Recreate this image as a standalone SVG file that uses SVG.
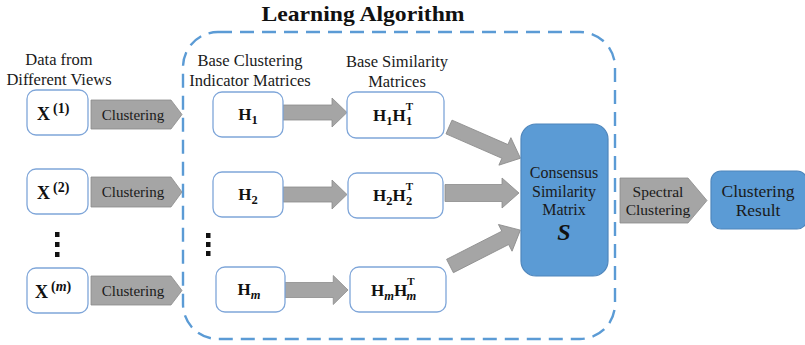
<svg xmlns="http://www.w3.org/2000/svg" width="805" height="345" viewBox="0 0 805 345">
<defs>
<style>
.box{fill:#fff;stroke:#7FA6D9;stroke-width:1.3}
.blue{fill:#5B9BD5;stroke:#4F86BC;stroke-width:1.2}
.arr{fill:#A5A5A5;stroke:#8C8C8C;stroke-width:0.8}
.dash{fill:none;stroke:#5B9BD5;stroke-width:2.4;stroke-dasharray:14 8}
.dot{fill:#111}
</style>
<polygon id="ba" points="0,-7.5 49,-7.5 49,-14.5 64,0 49,14.5 49,7.5 0,7.5"/>
</defs>
<rect width="805" height="345" fill="#fff"/>
<g font-family="Liberation Serif, Times New Roman, DejaVu Serif, serif" fill="#1a1a1a">

<text x="363" y="21" font-size="22" font-weight="bold" text-anchor="middle" fill="#111" textLength="203" lengthAdjust="spacingAndGlyphs">Learning Algorithm</text>
<rect class="dash" x="183" y="32" width="432" height="307" rx="35"/>

<g font-size="16.5" text-anchor="middle">
<text x="59" y="65">Data from</text>
<text x="59" y="85">Different Views</text>
<text x="250" y="66">Base Clustering</text>
<text x="250" y="86">Indicator Matrices</text>
<text x="397" y="67">Base Similarity</text>
<text x="397" y="87">Matrices</text>
</g>

<g id="connectors">
<g class="arr">
<polygon points="91,100 171,100 182,114.5 171,129 91,129"/>
<polygon points="91,177 171,177 182,192 171,207 91,207"/>
<polygon points="91,276 171,276 182,290.5 171,305 91,305"/>
<use href="#ba" transform="translate(283,112.5)"/>
<use href="#ba" transform="translate(283,194.5)"/>
<use href="#ba" transform="translate(285,290) scale(0.985,1)"/>
<polygon points="0,-7.5 61,-7.5 61,-15 78,0 61,15 61,7.5 0,7.5" transform="translate(449,127) rotate(23.6)"/>
<polygon points="0,-8.5 57,-8.5 57,-15 74,0 57,15 57,8.5 0,8.5" transform="translate(445,193)"/>
<polygon points="0,-7.5 62,-7.5 62,-15 79,0 62,15 62,7.5 0,7.5" transform="translate(450,266) rotate(-27)"/>
<polygon points="620,178 688,178 707,200.5 688,223 620,223"/>
</g>
<g font-size="15" text-anchor="middle">
<text x="133" y="120">Clustering</text>
<text x="133" y="197">Clustering</text>
<text x="133" y="296">Clustering</text>
<text x="658" y="197" font-size="15.5">Spectral</text>
<text x="658" y="215" font-size="15.5">Clustering</text>
</g>
</g>

<g class="dot">
<rect x="55" y="232" width="4.5" height="5"/>
<rect x="55" y="242" width="4.5" height="5"/>
<rect x="55" y="252" width="4.5" height="5"/>
<rect x="206" y="233" width="4.5" height="5"/>
<rect x="206" y="242" width="4.5" height="5"/>
<rect x="206" y="251" width="4.5" height="5"/>
</g>

<g font-weight="bold" fill="#111">
<g id="x1"><rect class="box" x="27" y="90" width="61" height="45" rx="9"/>
<text x="37" y="120" font-size="18">X<tspan font-size="14" dx="3" dy="-7">(1)</tspan></text></g>
<g id="x2"><rect class="box" x="27" y="169" width="61" height="45" rx="9"/>
<text x="37" y="199" font-size="18">X<tspan font-size="14" dx="3" dy="-7">(2)</tspan></text></g>
<g id="xm"><rect class="box" x="27" y="268" width="61" height="45" rx="9"/>
<text x="35" y="298" font-size="18">X<tspan font-size="14" dx="3" dy="-7">(<tspan font-style="italic">m</tspan>)</tspan></text></g>

<g id="h1"><rect class="box" x="213" y="92" width="70" height="45" rx="9"/>
<text x="248" y="120" font-size="17" text-anchor="middle">H<tspan font-size="12.5" dy="4">1</tspan></text></g>
<g id="h2"><rect class="box" x="213" y="172" width="70" height="45" rx="9"/>
<text x="248" y="200" font-size="17" text-anchor="middle">H<tspan font-size="12.5" dy="4">2</tspan></text></g>
<g id="hm"><rect class="box" x="216" y="267" width="69" height="45" rx="9"/>
<text x="249" y="295" font-size="17" text-anchor="middle">H<tspan font-size="12.5" font-style="italic" dy="4">m</tspan></text></g>

<g id="hh1"><rect class="box" x="347" y="92" width="97" height="46" rx="9"/>
<text x="373" y="121" font-size="17">H<tspan font-size="12.5" dy="4">1</tspan><tspan dy="-4">H</tspan><tspan font-size="11" dy="-11">T</tspan><tspan font-size="12.5" dx="-7" dy="15">1</tspan></text></g>
<g id="hh2"><rect class="box" x="348" y="173" width="95" height="45" rx="9"/>
<text x="373" y="201" font-size="17">H<tspan font-size="12.5" dy="4">2</tspan><tspan dy="-4">H</tspan><tspan font-size="11" dy="-11">T</tspan><tspan font-size="12.5" dx="-7" dy="15">2</tspan></text></g>
<g id="hhm"><rect class="box" x="350" y="267" width="96" height="45" rx="9"/>
<text x="371" y="296" font-size="17">H<tspan font-size="12.5" font-style="italic" dy="4">m</tspan><tspan dy="-4">H</tspan><tspan font-size="11" dy="-11">T</tspan><tspan font-size="12.5" font-style="italic" dx="-8" dy="15">m</tspan></text></g>
</g>

<g id="consensus"><rect class="blue" x="521" y="124" width="87" height="152" rx="15"/>
<g font-size="16" text-anchor="middle">
<text x="564" y="178">Consensus</text>
<text x="564" y="197">Similarity</text>
<text x="564" y="215">Matrix</text>
</g>
<text x="564" y="240" font-size="24" font-weight="bold" font-style="italic" text-anchor="middle" fill="#111">S</text></g>

<g id="result"><rect class="blue" x="711" y="171" width="96" height="58" rx="10"/>
<g font-size="17.5" text-anchor="middle">
<text x="758" y="197">Clustering</text>
<text x="758" y="216">Result</text>
</g></g>
</g>
</svg>
